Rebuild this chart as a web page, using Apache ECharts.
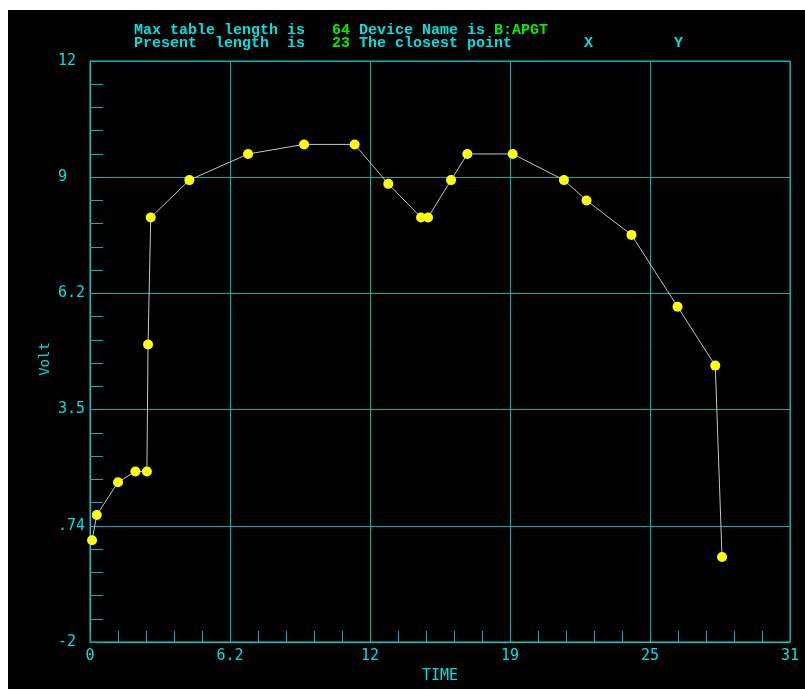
<!DOCTYPE html>
<html>
<head>
<meta charset="utf-8">
<script src="https://cdn.jsdelivr.net/npm/echarts@6/dist/echarts.min.js"></script>
<style>
  html, body { margin: 0; padding: 0; background: #ffffff; }
  #scope { position: absolute; left: 8px; top: 10px; width: 797px; height: 679px; background: #000000; }
</style>
</head>
<body>
<div id="scope"></div>
<script>
// readings (TIME vs Volt)
const timeValues = [0.09, 0.30, 1.24, 2.01, 2.52, 2.57, 2.69, 4.40, 7.00, 9.48, 11.72, 13.21,
  14.66, 14.97, 15.99, 16.71, 18.72, 20.99, 21.99, 23.98, 26.02, 27.69, 27.99];
const voltValues = [0.45, 1.06, 1.85, 2.11, 2.11, 5.17, 8.23, 9.13, 9.76, 9.99, 9.99, 9.04,
  8.23, 8.23, 9.13, 9.76, 9.76, 9.13, 8.64, 7.81, 6.08, 4.66, 0.05];
const xTickLabels = ['0', '6.2', '12', '19', '25', '31'];
const yTickLabels = ['-2', '.74', '3.5', '6.2', '9', '12'];

const cyan = '#00e0e0';
const green = '#00ee00';
const mono = 'DejaVu Sans Mono';

const chart = echarts.init(document.getElementById('scope'));
const option = {
  backgroundColor: '#000000',
  animation: false,
  title: {
    left: 126,
    top: 14,
    padding: 0,
    text: '{c|Max table length is   }{g|64}{c| Device Name is }{g|B:APGT}\n'
      + '{c|Present  length  is   }{g|23}{c| The closest point        X         Y}',
    textStyle: {
      rich: {
        c: { color: cyan, fontFamily: 'Liberation Mono', fontSize: 15, lineHeight: 13 },
        g: { color: green, fontFamily: 'Liberation Mono', fontSize: 15, lineHeight: 13 },
      },
    },
  },
  graphic: [
    {
      type: 'text',
      x: 37,
      y: 349,
      rotation: Math.PI / 2,
      style: {
        text: 'Volt',
        fill: cyan,
        font: '14px "DejaVu Sans Mono"',
        align: 'center',
        verticalAlign: 'middle',
      },
    },
  ],
  grid: {
    left: 82,
    top: 51,
    width: 700,
    height: 584,
    show: true,
    borderColor: '#00d0d0',
    borderWidth: 1,
    backgroundColor: 'transparent',
  },
  xAxis: {
    type: 'value',
    min: 0,
    max: 31,
    interval: 6.2,
    name: 'TIME',
    nameLocation: 'middle',
    nameGap: 27,
    nameTextStyle: { color: cyan, fontFamily: mono, fontSize: 15 },
    axisLine: { onZero: false, lineStyle: { color: '#00d0d0', width: 1 } },
    axisTick: { show: true, inside: true, length: 11, lineStyle: { color: '#00b8b8' } },
    minorTick: { show: true, splitNumber: 5, length: 11, lineStyle: { color: '#00b8b8' } },
    splitLine: { show: true, lineStyle: { color: '#00b0b0', width: 1 } },
    axisLabel: {
      color: cyan,
      fontFamily: mono,
      fontSize: 15,
      margin: 7,
      showMinLabel: true,
      showMaxLabel: true,
      formatter: (v) => xTickLabels[Math.round(v / 6.2)],
    },
  },
  yAxis: {
    type: 'value',
    min: -2,
    max: 12,
    interval: 2.8,
    axisLine: { show: true, onZero: false, lineStyle: { color: '#00d0d0', width: 1 } },
    axisTick: { show: true, inside: true, length: 13, lineStyle: { color: '#00b8b8' } },
    minorTick: { show: true, splitNumber: 5, length: 13, lineStyle: { color: '#00b8b8' } },
    splitLine: { show: true, lineStyle: { color: '#00b0b0', width: 1 } },
    axisLabel: {
      color: cyan,
      fontFamily: mono,
      fontSize: 15,
      align: 'left',
      margin: 32,
      showMinLabel: true,
      showMaxLabel: true,
      formatter: (v) => yTickLabels[Math.round((v + 2) / 2.8)],
    },
  },
  series: [
    {
      name: 'Volt',
      type: 'line',
      data: timeValues.map((t, i) => [t, voltValues[i]]),
      symbol: 'circle',
      symbolSize: 10,
      clip: false,
      itemStyle: { color: '#ffff00', borderWidth: 0 },
      lineStyle: { color: '#c4c4c4', width: 1 },
    },
  ],
};
chart.setOption(option);
window.addEventListener('resize', () => {
  chart.resize();
});
</script>
</body>
</html>
